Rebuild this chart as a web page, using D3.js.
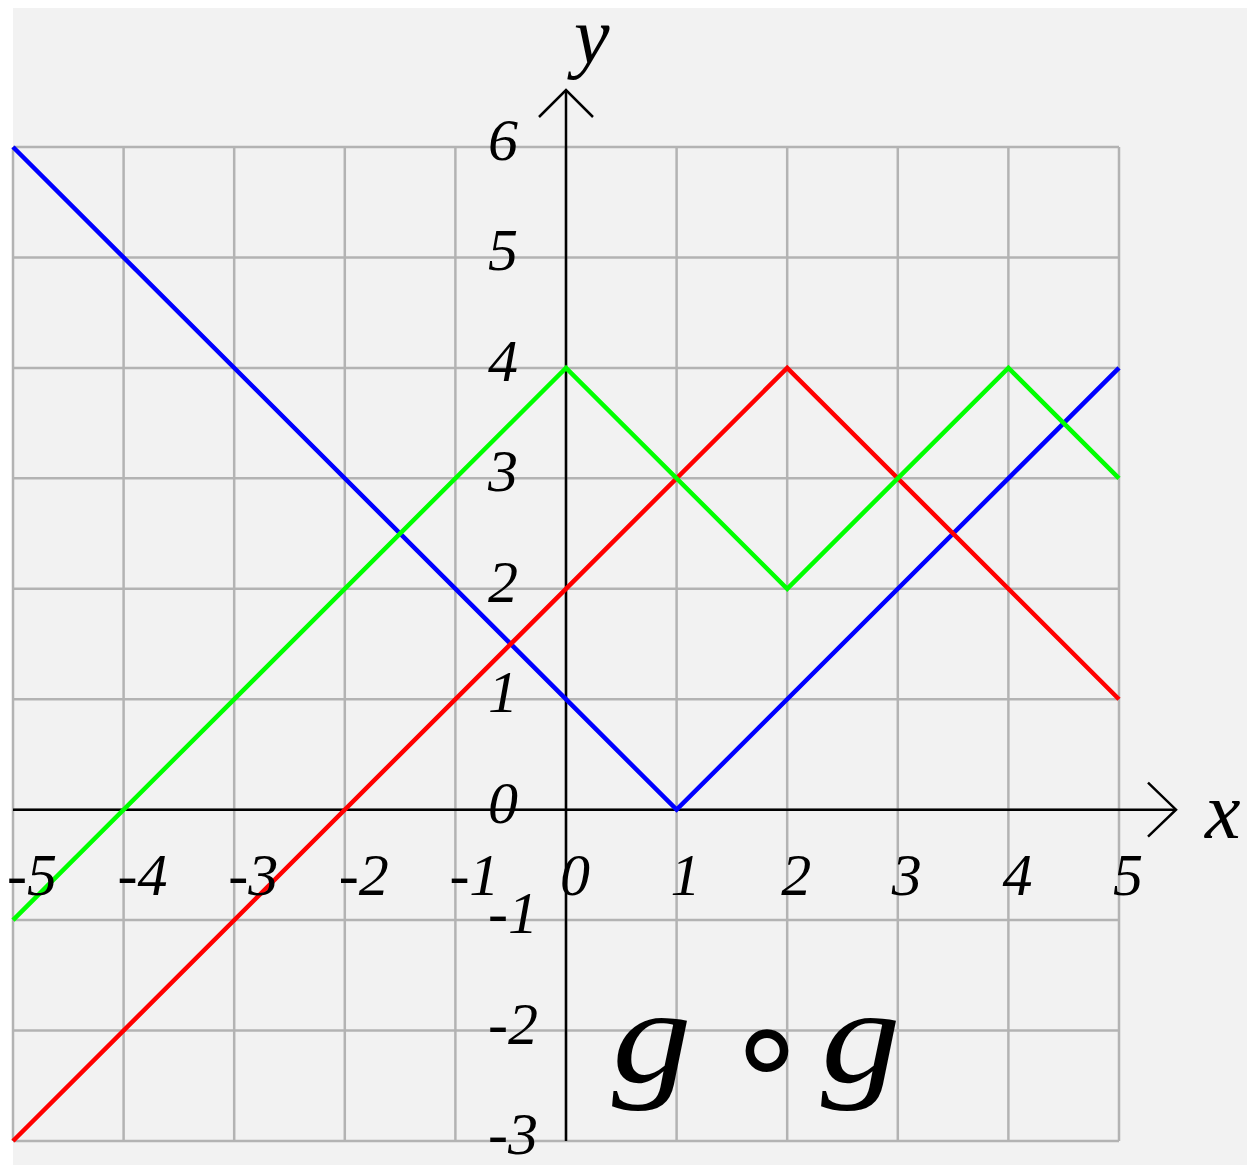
<!DOCTYPE html>
<html><head><meta charset="utf-8">
<script src="https://cdn.jsdelivr.net/npm/d3@7"></script>
<style>html,body{margin:0;padding:0;background:#fff;}svg{display:block;}</style>
</head><body>
<script>
const xTicks = [-5,-4,-3,-2,-1,0,1,2,3,4,5];
const yTicks = [-3,-2,-1,0,1,2,3,4,5,6];
const xTickLabels = ["-5","-4","-3","-2","-1","0","1","2","3","4","5"];
const yTickLabels = ["-3","-2","-1","0","1","2","3","4","5","6"];
const blueX = [-5, 1, 5];
const blueY = [6, 0, 4];
const redX = [-5, 2, 5];
const redY = [-3, 4, 1];
const greenX = [-5, 0, 2, 4, 5];
const greenY = [-1, 4, 2, 4, 3];
const seriesNames = ["blue","red","green"];
const seriesColors = ["#0000ff","#ff0000","#00ff00"];
const titleParts = ["g","∘","g"];

const W = 1247, H = 1165;
const svg = d3.select("body").append("svg").attr("width", W).attr("height", H);
svg.append("rect").attr("x",13).attr("y",8).attr("width",W-13).attr("height",H-8).attr("fill","#f2f2f2");

const x = d3.scaleLinear().domain([-5,5]).range([13,1119]);
const y = d3.scaleLinear().domain([-3,6]).range([1141,147]);
const font = "'Liberation Serif','Times New Roman',serif";

// grid
const grid = svg.append("g").attr("stroke","#b3b3b3").attr("stroke-width",2.5).attr("fill","none");
grid.selectAll("line.v").data(xTicks).join("line").attr("class","v")
  .attr("x1",d=>x(d)).attr("x2",d=>x(d)).attr("y1",y(6)).attr("y2",y(-3));
grid.selectAll("line.h").data(yTicks).join("line").attr("class","h")
  .attr("y1",d=>y(d)).attr("y2",d=>y(d)).attr("x1",x(-5)).attr("x2",x(5));

// axes
const ax = svg.append("g").attr("stroke","#000").attr("stroke-width",2.5).attr("fill","none");
ax.append("line").attr("x1",x(-5)).attr("x2",1176).attr("y1",y(0)).attr("y2",y(0));
ax.append("line").attr("x1",x(0)).attr("x2",x(0)).attr("y1",y(-3)).attr("y2",90);
ax.append("path").attr("d",`M${1148},${y(0)-27}L1176,${y(0)}L${1148},${y(0)+27}`);
ax.append("path").attr("d",`M${x(0)-27},117L${x(0)},90L${x(0)+27},117`);

// series
const line = d3.line().x(d=>x(d[0])).y(d=>y(d[1]));
const series = [
  blueX.map((v,i)=>[v,blueY[i]]),
  redX.map((v,i)=>[v,redY[i]]),
  greenX.map((v,i)=>[v,greenY[i]])
];
svg.append("g").selectAll("path").data(series).join("path")
  .attr("d",line).attr("fill","none")
  .attr("stroke",(d,i)=>seriesColors[i]).attr("stroke-width",4.5)
  .attr("stroke-linejoin","miter").attr("stroke-linecap","butt");

// tick labels
const lab = svg.append("g").attr("font-family",font).attr("font-style","italic").attr("font-size",60).attr("fill","#000");
lab.selectAll("text.xl").data(xTicks).join("text").attr("class","xl")
  .attr("x",d=>x(d)-6).attr("y",895).text((d,i)=>xTickLabels[i]);
lab.selectAll("text.yl").data(yTicks).join("text").attr("class","yl")
  .attr("x",488).attr("y",d=>y(d)+13).text((d,i)=>yTickLabels[i]);

// axis names
svg.append("text").attr("x",574).attr("y",63).attr("font-family",font).attr("font-style","italic").attr("font-size",80).text("y");
svg.append("text").attr("x",1205).attr("y",838).attr("font-family",font).attr("font-style","italic").attr("font-size",80).text("x");

// title g ∘ g
const t = svg.append("g").attr("font-family",font).attr("font-style","italic").attr("font-size",135);
t.append("text").attr("transform","translate(612,1082) scale(1.18,1)").text(titleParts[0]);
t.append("text").attr("x",767).attr("y",1094).attr("text-anchor","middle").attr("font-style","normal").attr("font-family","'DejaVu Sans',sans-serif").attr("font-size",138).text(titleParts[1]);
t.append("text").attr("transform","translate(821,1082) scale(1.18,1)").text(titleParts[2]);
</script>
</body></html>
